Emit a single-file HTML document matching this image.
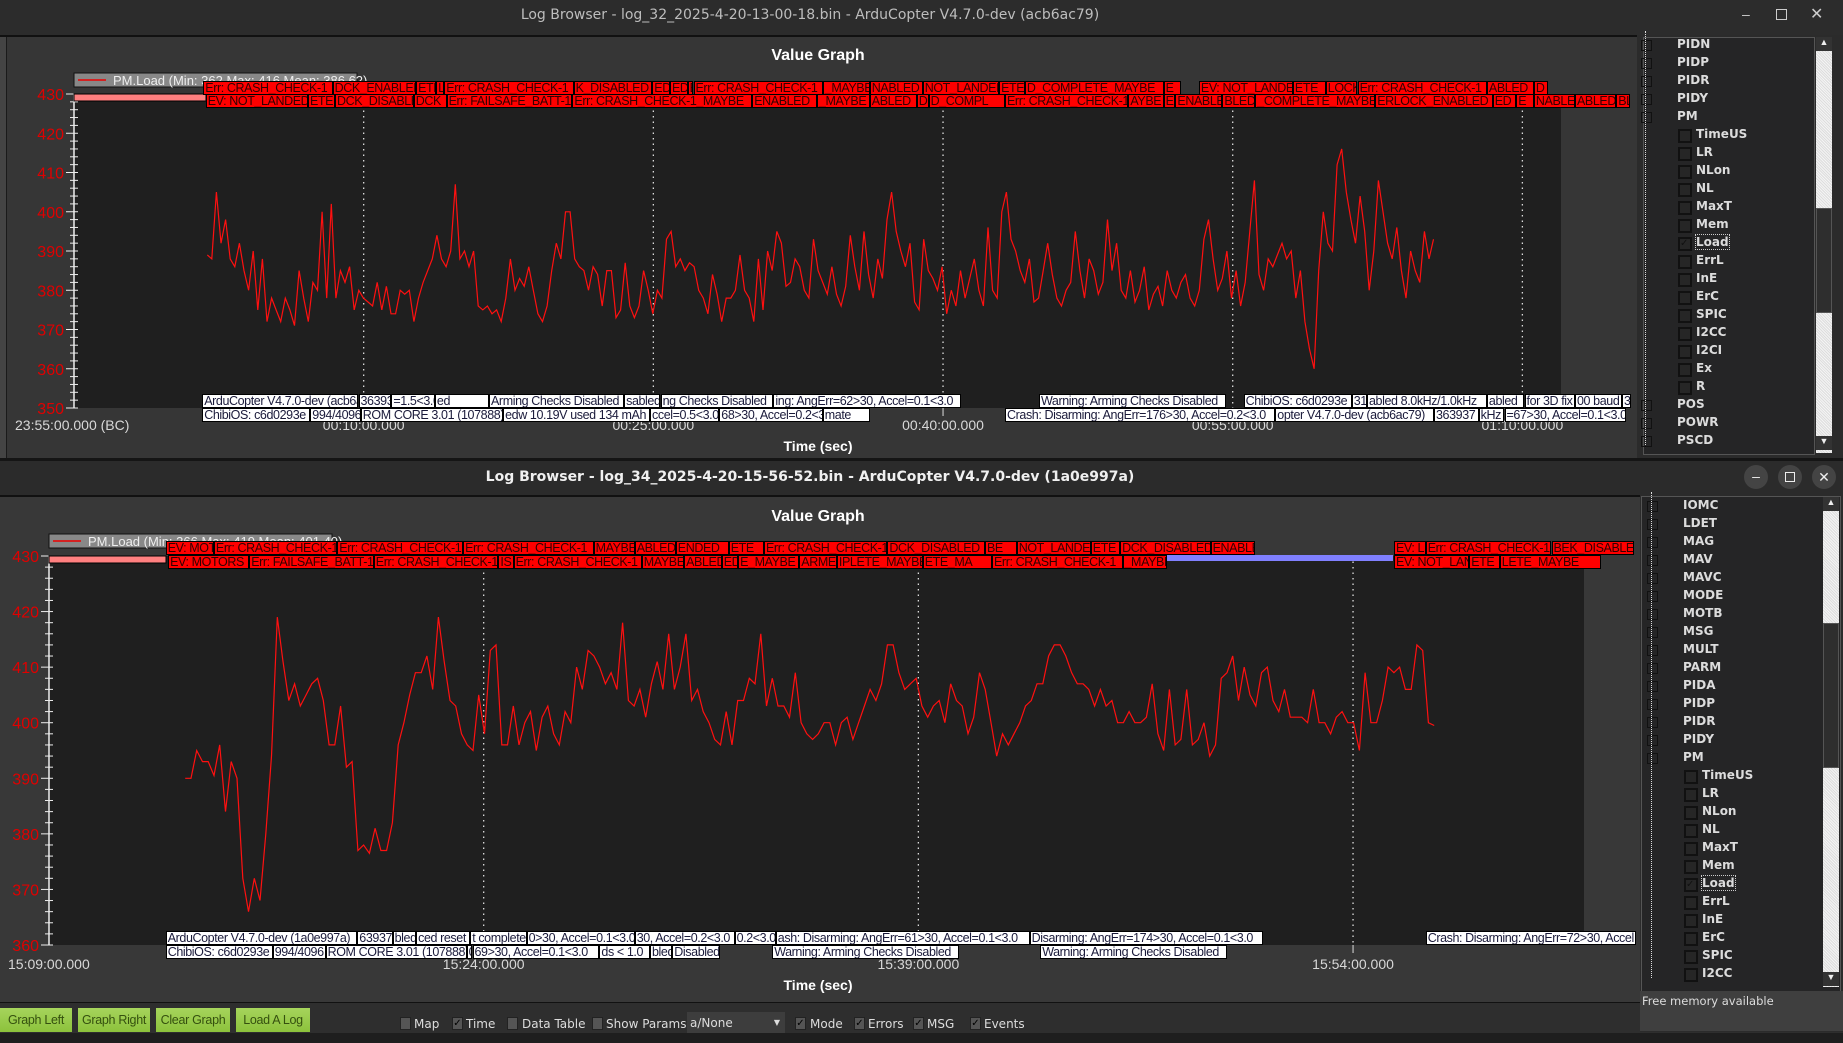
<!DOCTYPE html>
<html><head><meta charset="utf-8">
<style>
html,body{margin:0;padding:0;width:1843px;height:1043px;overflow:hidden;background:#1e1e1e;font-family:"Liberation Sans",sans-serif;}
.abs{position:absolute;}
.ann{position:absolute;height:13px;line-height:13px;font-size:12.5px;white-space:nowrap;overflow:hidden;box-sizing:border-box;border:1px solid #000;padding-left:1px;letter-spacing:-0.4px;}
.red{background:#ff0000;color:#300;}
.wht{background:#fff;color:#1a1a3a;}
.tree{position:absolute;font-size:12px;color:#dcdcdc;font-weight:bold;font-family:"DejaVu Sans","Liberation Sans",sans-serif;}
.cb{position:absolute;width:10px;height:10px;border:2px solid #111;background:#262626;}
.btn{position:absolute;top:1008px;height:24px;background:linear-gradient(#a6d45c,#8cc23c);color:#35500f;font-size:12.5px;line-height:24px;text-align:center;letter-spacing:-0.3px;}
.tb{position:absolute;top:1017px;font-size:12px;color:#ddd;font-family:"DejaVu Sans","Liberation Sans",sans-serif;}
.tbc{position:absolute;top:1017px;width:9px;height:11px;background:#555;border:1px solid #222;color:#000;font-size:10px;line-height:11px;text-align:center;}
</style></head>
<body>
<!-- top window -->
<div class="abs" style="left:0;top:0;width:1843px;height:35px;background:#2c2c2c;"></div>
<div class="abs" style="left:0;top:7px;width:1620px;text-align:center;color:#bdbdbd;font-size:14px;font-family:'DejaVu Sans',sans-serif;">Log Browser - log_32_2025-4-20-13-00-18.bin - ArduCopter V4.7.0-dev (acb6ac79)</div>
<div class="abs" style="left:1742px;top:6px;color:#ccc;font-size:14px;">–</div>
<div class="abs" style="left:1776px;top:9px;width:9px;height:9px;border:1px solid #ccc;"></div>
<div class="abs" style="left:1810px;top:4px;color:#ccc;font-size:16px;">✕</div>
<div class="abs" style="left:0;top:35px;width:1637px;height:423px;background:#363636;border-top:2px solid #111;box-sizing:border-box;"></div>
<div class="abs" style="left:0;top:37px;width:6px;height:421px;background:#444;border-right:1px solid #1a1a1a;"></div>
<!-- bottom window -->
<div class="abs" style="left:0;top:458px;width:1843px;height:37px;background:#2b2b2b;border-top:3px solid #151515;box-sizing:border-box;"></div>
<div class="abs" style="left:0;top:469px;width:1620px;text-align:center;color:#f0f0f0;font-size:14px;font-weight:bold;font-family:'DejaVu Sans',sans-serif;">Log Browser - log_34_2025-4-20-15-56-52.bin - ArduCopter V4.7.0-dev (1a0e997a)</div>
<div class="abs" style="left:1744px;top:465px;width:24px;height:24px;border-radius:12px;background:#444;color:#eee;text-align:center;font-size:14px;line-height:22px;">–</div>
<div class="abs" style="left:1778px;top:465px;width:24px;height:24px;border-radius:12px;background:#444;"><div class="abs" style="left:7px;top:7px;width:8px;height:8px;border:1px solid #eee;"></div></div>
<div class="abs" style="left:1812px;top:465px;width:24px;height:24px;border-radius:12px;background:#444;color:#eee;text-align:center;font-size:14px;line-height:24px;">✕</div>
<div class="abs" style="left:0;top:495px;width:1640px;height:507px;background:#383838;border-top:2px solid #111;box-sizing:border-box;"></div>
<div class="abs" style="left:0;top:1002px;width:1843px;height:30px;background:#2e2e2e;border-top:1px solid #111;"></div>

<svg id="charts" class="abs" style="left:0;top:0" width="1843" height="1043" xmlns="http://www.w3.org/2000/svg" font-family="Liberation Sans, sans-serif"></svg>
<div id="anns"></div>

<!-- right tree panels -->
<div class="abs" style="left:1637px;top:35px;width:206px;height:423px;background:#2b2b2b;"></div>
<div class="abs" style="left:1643px;top:37px;width:170px;height:416px;background:#252526;border:1px solid #555;"></div>
<div class="abs" style="left:1816px;top:37px;width:16px;height:416px;background:repeating-linear-gradient(45deg,#ddd 0 1px,#f4f4f4 1px 2px);"></div>
<div class="abs" style="left:1816px;top:208px;width:16px;height:105px;background:#2e2e2e;border:1px solid #555;box-sizing:border-box;"></div>
<div class="abs" style="left:1816px;top:37px;width:16px;height:14px;background:#333;color:#eee;font-size:9px;text-align:center;">▲</div>
<div class="abs" style="left:1816px;top:436px;width:16px;height:14px;background:#333;color:#eee;font-size:9px;text-align:center;">▼</div>
<div id="tree1"></div>

<div class="abs" style="left:1640px;top:495px;width:203px;height:537px;background:#2b2b2b;"></div>
<div class="abs" style="left:1641px;top:496px;width:198px;height:494px;background:#252526;border:1px solid #555;"></div>
<div class="abs" style="left:1823px;top:497px;width:16px;height:490px;background:repeating-linear-gradient(45deg,#ddd 0 1px,#f4f4f4 1px 2px);"></div>
<div class="abs" style="left:1823px;top:623px;width:16px;height:145px;background:#2e2e2e;border:1px solid #555;box-sizing:border-box;"></div>
<div class="abs" style="left:1823px;top:497px;width:16px;height:14px;background:#333;color:#eee;font-size:9px;text-align:center;">▲</div>
<div class="abs" style="left:1823px;top:972px;width:16px;height:14px;background:#333;color:#eee;font-size:9px;text-align:center;">▼</div>
<div id="tree2"></div>
<div class="abs" style="left:1640px;top:991px;width:203px;height:40px;background:#3f3f3f;color:#ddd;font-size:11.5px;padding:3px 0 0 2px;box-sizing:border-box;font-family:'DejaVu Sans',sans-serif;">Free memory available</div>

<!-- toolbar -->
<div class="btn" style="left:0;width:72px;">Graph Left</div>
<div class="btn" style="left:78px;width:72px;">Graph Right</div>
<div class="btn" style="left:156px;width:74px;">Clear Graph</div>
<div class="btn" style="left:236px;width:74px;">Load A Log</div>
<div class="tbc" style="left:400px;"></div><div class="tb" style="left:414px;">Map</div>
<div class="tbc" style="left:452px;">✓</div><div class="tb" style="left:466px;">Time</div>
<div class="tbc" style="left:507px;"></div><div class="tb" style="left:522px;">Data Table</div>
<div class="tbc" style="left:592px;"></div><div class="tb" style="left:606px;">Show Params</div>
<div class="abs" style="left:687px;top:1012px;width:98px;height:21px;background:#3d3d3d;color:#ddd;font-size:12px;line-height:22px;padding-left:3px;box-sizing:border-box;font-family:'DejaVu Sans',sans-serif;">a/None<span style="position:absolute;right:5px;font-size:8px;">▼</span></div>
<div class="tbc" style="left:795px;">✓</div><div class="tb" style="left:810px;">Mode</div>
<div class="tbc" style="left:854px;">✓</div><div class="tb" style="left:868px;">Errors</div>
<div class="tbc" style="left:913px;">✓</div><div class="tb" style="left:927px;">MSG</div>
<div class="tbc" style="left:970px;">✓</div><div class="tb" style="left:984px;">Events</div>

<script>
// ---- Chart data ----
const topStartMin = 1.9;
const topEndMin = 65.4;
const topValues = [389,388,405,392,398,388,386,392,385,380,390,375,388,372,378,375,372,378,375,371,
385,378,372,382,380,400,378,402,378,385,382,386,375,380,378,377,376,382,375,381,
374,374,380,379,380,372,378,382,385,388,394,388,386,390,407,388,390,386,390,376,
375,376,374,375,372,378,388,380,383,381,386,380,374,372,376,385,392,388,400,400,
388,386,385,380,386,384,376,385,385,373,375,387,376,373,376,385,380,374,380,378,393,395,386,388,
385,387,386,380,378,374,384,379,372,378,378,380,389,380,378,372,388,375,390,385,395,392,381,
382,388,386,380,378,393,385,382,379,386,379,376,381,394,386,380,395,384,378,388,383,398,405,395,
390,386,392,377,375,393,385,383,380,386,374,380,376,385,378,383,388,380,376,396,
380,378,400,405,393,390,385,382,388,377,378,385,392,384,378,376,380,382,395,385,378,388,385,379,
382,398,385,392,380,378,385,377,380,386,375,379,381,376,385,380,378,382,384,378,376,380,
393,398,388,380,383,390,378,385,376,382,395,408,384,380,388,386,389,392,
388,390,378,385,372,365,360,385,400,392,390,412,416,405,398,392,404,395,380,390,408,400,392,388,396,385,378,390,385,382,395,388,393];
const topYTicks = [350,360,370,380,390,400,410,420,430];
const topXTicks = [10,25,40,55,70];
const topXLabels = ["00:10:00.000","00:25:00.000","00:40:00.000","00:55:00.000","01:10:00.000"];

const botStartMin = -10.3;
const botEndMin = 32.8;
const botValues = [390,390,395,393,393,390.5,396,384,393,390,372,366,372,368,380,394,419,411,404,407,403,405,407,408,404,396,396,403,392,393,377,378,376.5,381,377,377,382,396,400,405,409,409,412,406,419,411,404,403,398,396,395,405,398,413,414,396,396,403,396,400,402,395,401,403,398,396,402,400,410,406,413,412,410,407,409,406,418,404,403,406,401,407,411,406,416,406,410,416,404,406,402,400,397,396,402,396,404,404,408,407,416,403,408,403,403,401,409,400,398,397,398,400,400,396,400,401,397,400,403,406,404,407,414,
414,409,406,407,408,403,401,403,404,400,407,404,403,398,401,409,406,400,394,398,396,398,400,403,404,407,407,412,414,414,412,409,407,407,406,403,406,403,404,400,400,402,400,400,401,407,398,395,406,396,397,406,396,397,400,394,396,408,409,412,404,410,405,403,409,410,404,402,406,401,401,401,400,406,400,400,398,401,402,400,400,395,409,400,400,404,410,409,410,406,406,414,413,400,399.5];
const botYTicks = [360,370,380,390,400,410,420,430];
const botXTicks = [0,15,30];
const botXLabels = ["15:24:00.000","15:39:00.000","15:54:00.000"];

const NS = "http://www.w3.org/2000/svg";
const svg = document.getElementById("charts");
function mk(tag, attrs, parent){ const e=document.createElementNS(NS,tag); for(const k in attrs) e.setAttribute(k,attrs[k]); (parent||svg).appendChild(e); return e; }

function drawChart(cfg){
  const g = mk("g",{});
  
  
  const xs = m => cfg.x0 + (m - cfg.dMin)/(cfg.dMax - cfg.dMin)*(cfg.x1 - cfg.x0);
  const ys = v => cfg.yA + (cfg.vA - v)/(cfg.vA - cfg.vB)*(cfg.yB - cfg.yA);
  const bg = mk("rect",{x:cfg.x0,y:cfg.pTop,width:cfg.x1-cfg.x0,height:cfg.yB-cfg.pTop,fill:"#1f1f1f"},g);
  
  
  const t = mk("text",{x:cfg.titleX,y:cfg.titleY,fill:"#fff","font-size":16,"font-weight":"bold","text-anchor":"middle"},g);
  t.textContent = "Value Graph";
  
  
  const vMin = cfg.yTicks[0], vMax = cfg.yTicks[cfg.yTicks.length-1];
  for(let v=vMin; v<=vMax; v+=2){
    const y = ys(v);
    const major = (v % 10 === 0);
    mk("line",{x1:major?cfg.x0-8:cfg.x0-4,x2:cfg.x0+4,y1:y,y2:y,stroke:"#eee","stroke-width":1},g);
  }
  cfg.yTicks.forEach(v=>{
    const tx = mk("text",{x:cfg.x0-10,y:ys(v)+6,fill:"#e00000","font-size":16,"text-anchor":"end"},g);
    tx.textContent = v;
    
    
  });
  const ax = mk("line",{x1:cfg.x0,x2:cfg.x0,y1:cfg.pTop,y2:cfg.yB,stroke:"#eee","stroke-width":1.5},g);
  
  
  cfg.xTicks.forEach((m,i)=>{
    const x = xs(m);
    const gl = mk("line",{x1:x,x2:x,y1:cfg.pTop,y2:cfg.yB,stroke:"#ddd","stroke-dasharray":"1.5,4","stroke-width":1.3},g);
    
    
    mk("line",{x1:x,x2:x,y1:cfg.yB,y2:cfg.yB+8,stroke:"#ddd"},g);
    const tl = mk("text",{x:x,y:cfg.xLabY,fill:"#d8d8d8","font-size":14,"text-anchor":"middle"},g);
    tl.textContent = cfg.xLabels[i];
    
    
  });
  const l0 = mk("text",{x:cfg.leftLabX,y:cfg.xLabY,fill:"#d8d8d8","font-size":14},g);
  l0.textContent = cfg.leftLab;
  
  
  const xt = mk("text",{x:cfg.titleX,y:cfg.xTitleY,fill:"#fff","font-size":14,"font-weight":"bold","text-anchor":"middle"},g);
  xt.textContent = "Time (sec)";
  
  
  const n = cfg.values.length;
  const pts = cfg.values.map((v,i)=>{
    const m = cfg.sMin + i*(cfg.sMax-cfg.sMin)/(n-1);
    return xs(m).toFixed(1)+","+ys(v).toFixed(1);
  }).join(" ");
  const pl = mk("polyline",{points:pts,fill:"none",stroke:"#ff1010","stroke-width":1.2},g);
  
  
  const pb = mk("rect",{x:cfg.x0,y:cfg.yA,width:cfg.pinkW,height:7,fill:"#ff8080",stroke:"#000","stroke-width":1},g);
  
  
  const lg = mk("g",{},g);
  
  
  mk("rect",{x:cfg.x0,y:cfg.legY,width:283,height:14,fill:"#888",stroke:"#111"},lg);
  mk("line",{x1:cfg.x0+4,x2:cfg.x0+32,y1:cfg.legY+7,y2:cfg.legY+7,stroke:"#e00",'stroke-width':1.5},lg);
  const lt = mk("text",{x:cfg.x0+39,y:cfg.legY+12,fill:"#eee","font-size":13},lg);
  lt.textContent = cfg.legText;
}

drawChart({name:"top-value-graph",x0:74,x1:1561,pTop:94,yA:94,yB:408,vA:430,vB:350,dMin:-5,dMax:72,
  sMin:topStartMin,sMax:topEndMin,values:topValues,yTicks:topYTicks,xTicks:topXTicks,xLabels:topXLabels,
  xLabY:430,leftLab:"23:55:00.000 (BC)",leftLabX:15,titleX:818,titleY:60,xTitleY:451,pinkW:132,legY:73,
  legText:"PM.Load  (Min: 362 Max: 416 Mean: 386.62)"});
drawChart({name:"bottom-value-graph",x0:49,x1:1584,pTop:556,yA:556,yB:945,vA:430,vB:360,dMin:-15,dMax:37.97,
  sMin:botStartMin,sMax:botEndMin,values:botValues,yTicks:botYTicks,xTicks:botXTicks,xLabels:botXLabels,
  xLabY:969,leftLab:"15:09:00.000",leftLabX:8,titleX:818,titleY:521,xTitleY:990,pinkW:117,legY:534,
  legText:"PM.Load  (Min: 366 Max: 419 Mean: 401.40)"});
const bb = mk("rect",{x:1167,y:555,width:226,height:6,fill:"#8080ff"});



const S = 1843/1568;
const anns = document.getElementById("anns");
function row(items, cls, yTop){
  items.forEach(it=>{
    const d = document.createElement("div");
    d.className = "ann " + cls;
    d.style.left = (it[1]*S).toFixed(1)+"px";
    d.style.top = yTop+"px";
    d.style.width = ((it[2]-it[1])*S).toFixed(1)+"px";
    d.style.height = "14px";
    d.textContent = it[0];
    
    
    anns.appendChild(d);
  });
}
row([["Err: CRASH_CHECK-1",173,283],["DCK_ENABLED",283,354],["ETE",354,371],["L",371,378],["Err: CRASH_CHECK-1",378,488],["K_DISABLED",488,555],["ED",555,570],["ED",570,585],["E",585,590],["Err: CRASH_CHECK-1",590,700],["_MAYBE",700,740],["NABLED",740,785],["NOT_LANDED",785,850],["ETE",850,872],["D_COMPLETE_MAYBE",872,990],["E",990,1005],
["EV: NOT_LANDED",1020,1100],["ETE",1100,1128],["LOCK",1128,1155],["Err: CRASH_CHECK-1",1155,1265],["ABLED",1265,1305],["D",1305,1317]],"red",81);
row([["EV: NOT_LANDED",175,262],["ETE",262,285],["DCK_DISABLED",285,352],["DCK",352,380],["Err: FAILSAFE_BATT-1",380,487],["Err: CRASH_CHECK-1_MAYBE",487,640],["ENABLED",640,695],["_MAYBE",695,740],["ABLED",740,780],["D",780,790],["D_COMPL",790,855],["Err: CRASH_CHECK-1",855,960],["AYBE",960,990],["E",990,1000],["ENABLED",1000,1040],["BLED",1040,1068],["_COMPLETE_MAYBE",1068,1170],["ERLOCK_ENABLED",1170,1270],["ED",1270,1290],["E",1290,1305],["NABLED",1305,1340],["ABLED",1340,1375],["BL",1375,1387]],"red",94);
row([["ArduCopter V4.7.0-dev (acb6ac79)",172,305],["363937",305,333],["=1.5<3.0",333,370],["ed",370,416],["Arming Checks Disabled",416,531],["sabled",531,562],["ng Checks Disabled",562,658],["ing: AngErr=62>30, Accel=0.1<3.0",658,818],
["Warning: Arming Checks Disabled",884,1043],["ChibiOS: c6d0293e",1058,1150],["31",1150,1163],["abled 8.0kHz/1.0kHz",1163,1265],["abled",1265,1297],[" for 3D fix",1297,1340],["00 baud",1340,1380],["3",1380,1388]],"wht",394);
row([["ChibiOS: c6d0293e",172,264],["994/4096",264,307],["ROM CORE 3.01 (107888)",307,428],["edw 10.19V used 134 mAh",428,553],["ccel=0.5<3.0",553,612],["68>30, Accel=0.2<3.0",612,700],["mate",700,740],
["Crash: Disarming: AngErr=176>30, Accel=0.2<3.0",855,1085],["opter V4.7.0-dev (acb6ac79)",1085,1220],["363937",1220,1258],["kHz",1258,1280],["=67>30, Accel=0.1<3.0",1280,1383]],"wht",408);
row([["EV: MOT",141,182],["Err: CRASH_CHECK-1",182,287],["Err: CRASH_CHECK-1",287,394],["Err: CRASH_CHECK-1",394,505],["MAYBE",505,540],["ABLED",540,575],["ENDED",575,620],["ETE",620,650],["Err: CRASH_CHECK-1",650,755],["DCK_DISABLED",755,838],["BE",838,865],["NOT_LANDED",865,928],["ETE",928,953],["DCK_DISABLED",953,1030],["ENABLED",1030,1068],
["EV: L",1186,1213],["Err: CRASH_CHECK-1",1213,1320],["BEK_DISABLE",1320,1390]],"red",541);
row([["EV: MOTORS",143,212],["Err: FAILSAFE_BATT-1",212,318],["Err: CRASH_CHECK-1",318,424],["IS",424,437],["Err: CRASH_CHECK-1",437,546],["MAYBE",546,582],["ABLED",582,614],["ED",614,628],["E_MAYBE",628,680],["ARMED",680,712],["IPLETE_MAYBE",712,785],["ETE_MA",785,844],["Err: CRASH_CHECK-1",844,955],["_MAYBE",955,993],
["EV: NOT_LANDED",1186,1250],["ETE",1250,1276],["LETE_MAYBE",1276,1362]],"red",555);
row([["ArduCopter V4.7.0-dev (1a0e997a)",141,304],["63937",304,334],["bled",334,354],["ced reset",354,400],["t complete",400,448],["0>30, Accel=0.1<3.0",448,540],["30, Accel=0.2<3.0",540,625],["0.2<3.0",625,660],["ash: Disarming: AngErr=61>30, Accel=0.1<3.0",660,876],["Disarming: AngErr=174>30, Accel=0.1<3.0",876,1075],
["Crash: Disarming: AngErr=72>30, Accel",1213,1392]],"wht",931);
row([["ChibiOS: c6d0293e",141,232],["994/4096",232,277],["ROM CORE 3.01 (107888)",277,397],["0",397,402],["69>30, Accel=0.1<3.0",402,510],["ds < 1.0",510,553],["bled",553,572],["Disabled",572,613],
["Warning: Arming Checks Disabled",657,816],["Warning: Arming Checks Disabled",885,1044]],"wht",945);

function tree(containerId, parents, parentX, children, childX, y0, step, lineX){
  const c = document.getElementById(containerId);
  let y = y0;
  const add = (txt, x, isChild, checked) => {
    const d = document.createElement("div");
    d.className = "tree";
    d.style.left = x+"px"; d.style.top = (y-8)+"px";
    d.textContent = txt;
    
    
    if(checked){ d.style.outline = "1px dotted #ccc"; }
    c.appendChild(d);
    const ex = document.createElement("div");
    ex.className = "abs";
    ex.style.cssText = "left:"+(lineX-4)+"px;top:"+(y-5)+"px;width:9px;height:9px;border:1px solid #111;";
    if(isChild){
      ex.className = "cb";
      ex.style.cssText = "left:"+(x-18)+"px;top:"+(y-6)+"px;";
      if(checked){ ex.textContent="✓"; ex.style.color="#111"; ex.style.fontSize="10px"; ex.style.lineHeight="10px"; }
      
      
    } else {
      
      
    }
    c.appendChild(ex);
    y += step;
  };
  parents[0].forEach(p=>add(p, parentX, false));
  children.forEach(ch=>add(ch, childX, true, ch==="Load"));
  parents[1].forEach(p=>add(p, parentX, false));
  const vl = document.createElement("div");
  vl.className="abs";
  vl.style.cssText="left:"+lineX+"px;top:"+(y0-14)+"px;height:"+(y-y0)+"px;border-left:1px dotted #ddd;";
  
  
  c.appendChild(vl);
}
const children1 = ["TimeUS","LR","NLon","NL","MaxT","Mem","Load","ErrL","InE","ErC","SPIC","I2CC","I2CI","Ex","R"];
tree("tree1", [["PIDN","PIDP","PIDR","PIDY","PM"],["POS","POWR","PSCD"]], 1677, children1, 1696, 45, 18, 1645);
const children2 = ["TimeUS","LR","NLon","NL","MaxT","Mem","Load","ErrL","InE","ErC","SPIC","I2CC"];
tree("tree2", [["IOMC","LDET","MAG","MAV","MAVC","MODE","MOTB","MSG","MULT","PARM","PIDA","PIDP","PIDR","PIDY","PM"],[]], 1683, children2, 1702, 506, 18, 1651);
</script>
</body></html>
